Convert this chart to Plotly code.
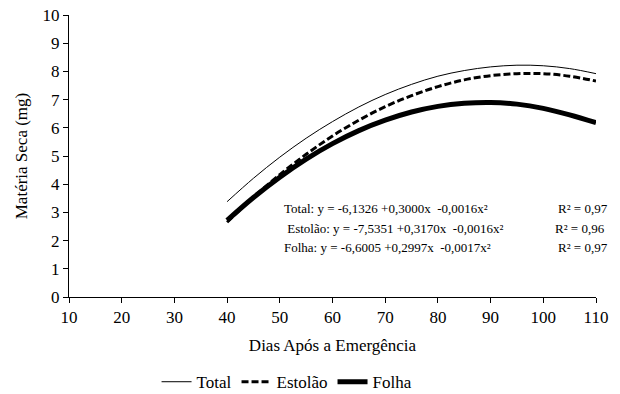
import plotly.graph_objects as go

dias = [40, 45, 50, 55, 60, 65, 70, 75, 80, 85, 90, 95, 100, 105, 110]
total = [3.38, 4.21, 4.96, 5.63, 6.22, 6.74, 7.18, 7.54, 7.83, 8.03, 8.16, 8.22, 8.20, 8.10, 7.92]
estolao = [2.65, 3.54, 4.34, 5.06, 5.71, 6.27, 6.75, 7.14, 7.46, 7.70, 7.85, 7.92, 7.92, 7.83, 7.66]
folha = [2.72, 3.53, 4.25, 4.89, 5.44, 5.90, 6.27, 6.56, 6.76, 6.87, 6.90, 6.84, 6.69, 6.46, 6.18]

series_names = ["Total", "Estolão", "Folha"]
equations = [
    "Total: y = -6,1326 +0,3000x \u00a0-0,0016x²",
    "\u00a0Estolão: y = -7,5351 +0,3170x \u00a0-0,0016x²",
    "Folha: y = -6,6005 +0,2997x \u00a0-0,0017x²",
]
r2_labels = ["R² = 0,97", "R² = 0,96", "R² = 0,97"]

FONT = "Liberation Serif"

fig = go.Figure()
fig.add_trace(go.Scatter(x=dias, y=total, name=series_names[0], mode="lines",
                         line=dict(color="black", width=1, shape="spline")))
fig.add_trace(go.Scatter(x=dias, y=estolao, name=series_names[1], mode="lines",
                         line=dict(color="black", width=3, dash="7px,3px", shape="spline")))
fig.add_trace(go.Scatter(x=dias, y=folha, name=series_names[2], mode="lines",
                         line=dict(color="black", width=5, shape="spline")))

eq_y = [3.15, 2.44, 1.76]
eq_x = [0.404, 0.404, 0.404]
r2_x = [0.924, 0.918, 0.924]
annotations = []
for i in range(3):
    annotations.append(dict(xref="paper", yref="y", x=eq_x[i], y=eq_y[i], text=equations[i],
                            showarrow=False, xanchor="left", yanchor="middle",
                            font=dict(family=FONT, size=13, color="black")))
    annotations.append(dict(xref="paper", yref="y", x=r2_x[i], y=eq_y[i], text=r2_labels[i],
                            showarrow=False, xanchor="left", yanchor="middle",
                            font=dict(family=FONT, size=13, color="black")))

fig.update_layout(
    width=620, height=394,
    margin=dict(l=69, r=24, t=15, b=97),
    paper_bgcolor="white", plot_bgcolor="white",
    font=dict(family=FONT, size=17, color="black"),
    showlegend=True,
    legend=dict(orientation="h", x=0.463, xanchor="center", xref="container",
                y=0.03, yanchor="middle", yref="container",
                font=dict(family=FONT, size=17, color="black"),
                itemwidth=30, tracegroupgap=0),
    annotations=annotations,
    xaxis=dict(range=[10, 110], tickvals=list(range(10, 111, 10)), automargin=False,
               showgrid=False, zeroline=False, showline=True, linecolor="black", linewidth=1,
               ticks="outside", ticklen=5, tickcolor="black",
               tickfont=dict(family=FONT, size=17),
               title=dict(text="Dias Após a Emergência", standoff=12,
                          font=dict(family=FONT, size=17))),
    yaxis=dict(range=[0, 10], tickvals=list(range(0, 11)), automargin=False,
               showgrid=False, zeroline=False, showline=True, linecolor="black", linewidth=1,
               ticks="outside", ticklen=5, tickcolor="black",
               tickfont=dict(family=FONT, size=17),
               title=dict(text="Matéria Seca (mg)", standoff=10,
                          font=dict(family=FONT, size=17))),
)

fig.write_html("out.html")
